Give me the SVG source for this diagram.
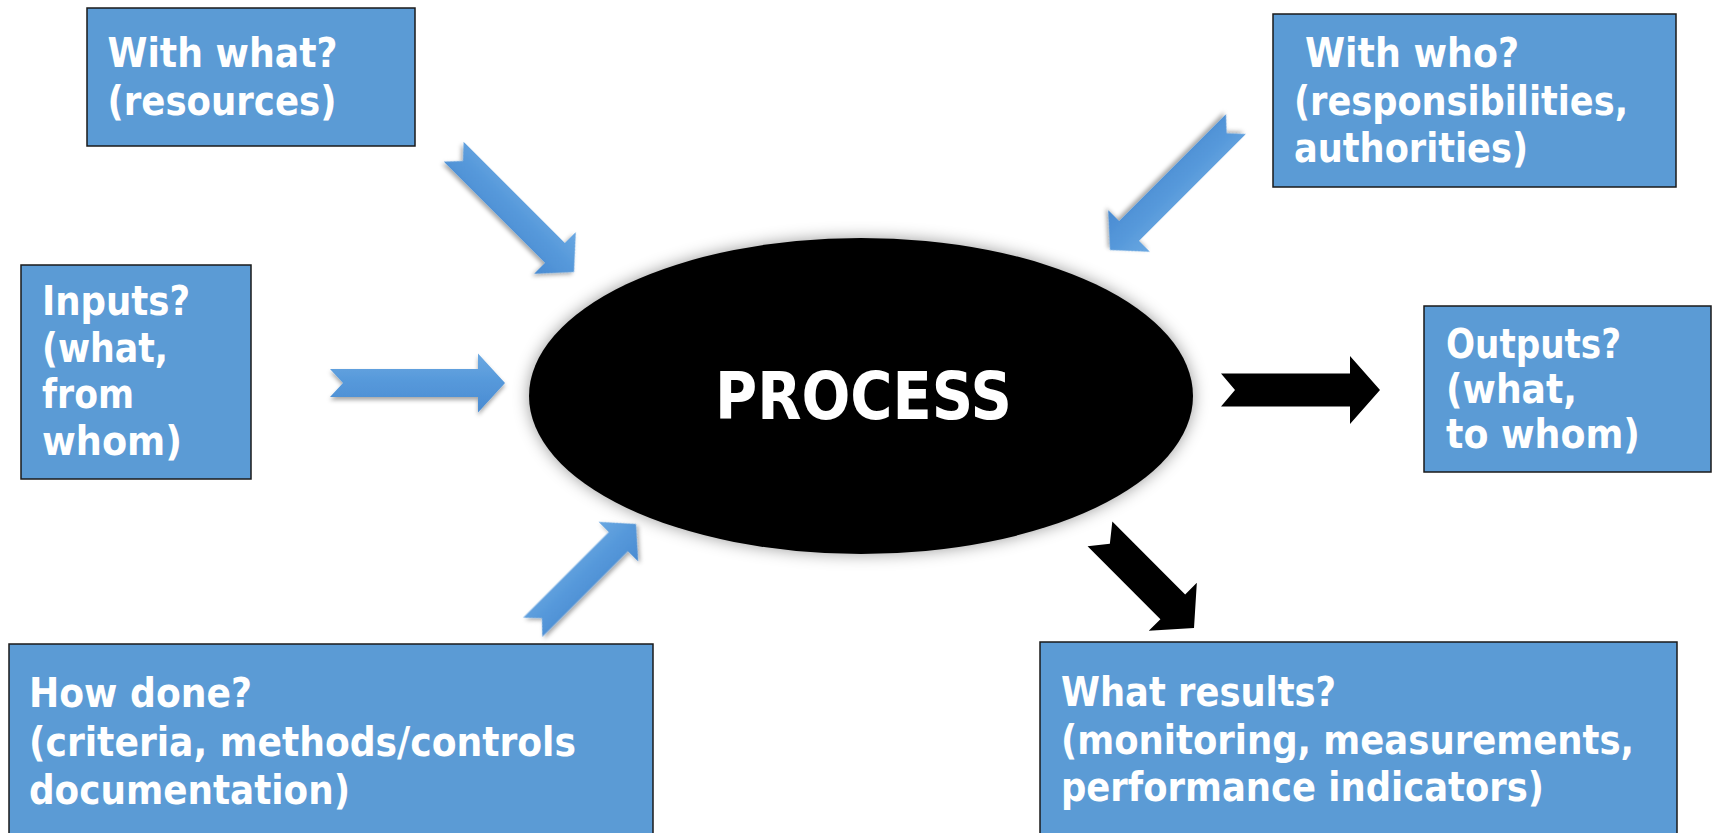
<svg xmlns="http://www.w3.org/2000/svg" width="1716" height="833" viewBox="0 0 1716 833">
<style>
.box{fill:#5B9BD5;stroke:#1a1a1a;stroke-width:1.5}
.t{font-family:"DejaVu Sans","Liberation Sans",sans-serif;font-weight:bold;font-size:40px;fill:#ffffff}
.big{font-family:"DejaVu Sans","Liberation Sans",sans-serif;font-weight:bold;font-size:65px;fill:#ffffff}
.blue{fill:url(#bg);filter:url(#sh)}
.black{fill:#000000}
</style>
<defs>
<linearGradient id="bg" gradientUnits="objectBoundingBox" x1="0" y1="0" x2="0" y2="1">
<stop offset="0" stop-color="#6AA8E2"/>
<stop offset="0.5" stop-color="#5598DA"/>
<stop offset="1" stop-color="#4A8BD2"/>
</linearGradient>
<filter id="sh" x="-30%" y="-30%" width="160%" height="160%">
<feDropShadow dx="0" dy="3" stdDeviation="2" flood-color="#000" flood-opacity="0.35"/>
</filter>
<filter id="glow" x="-20%" y="-20%" width="140%" height="140%">
<feDropShadow dx="0" dy="0" stdDeviation="8" flood-color="#000" flood-opacity="0.4"/>
</filter>
</defs>

<g id="connectors">
<path class="blue" transform="translate(574,272) rotate(45)" d="M0,0 L-27,-29.5 L-27,-14 L-170,-14 L-157,0 L-170,14 L-27,14 L-27,29.5 Z"/>
<path class="blue" transform="translate(1110,250) rotate(135)" d="M0,0 L-27,-29.5 L-27,-14 L-178,-14 L-165,0 L-178,14 L-27,14 L-27,29.5 Z"/>
<path class="blue" d="M505,383 L478,353.5 L478,369 L330,369 L343,383 L330,397 L478,397 L478,412.5 Z"/>
<path class="blue" transform="translate(636,524) rotate(-45)" d="M0,0 L-25,-28 L-25,-13.5 L-146,-13.5 L-133,0 L-146,13.5 L-25,13.5 L-25,28 Z"/>
<path class="black" d="M1380,390 L1350,356 L1350,373.5 L1221,373.5 L1235,390 L1221,406.5 L1350,406.5 L1350,424 Z"/>
<path class="black" transform="translate(1194,628) rotate(45)" d="M0,0 L-30,-34 L-30,-17.5 L-133,-17.5 L-119,0 L-133,17.5 L-30,17.5 L-30,34 Z"/>
</g>

<g id="process">
<ellipse cx="861" cy="396" rx="332" ry="158" fill="#000000" filter="url(#glow)"/>
<text class="big" x="715" y="419" textLength="297" lengthAdjust="spacingAndGlyphs">PROCESS</text>
</g>

<g id="with-what">
<rect class="box" x="87" y="8" width="328" height="138"/>
<text class="t" x="107.5" y="67" textLength="230" lengthAdjust="spacingAndGlyphs">With what?</text>
<text class="t" x="107.5" y="115" textLength="229" lengthAdjust="spacingAndGlyphs">(resources)</text>
</g>

<g id="with-who">
<rect class="box" x="1273" y="14" width="403" height="173"/>
<text class="t" x="1305" y="67" textLength="214" lengthAdjust="spacingAndGlyphs">With who?</text>
<text class="t" x="1294" y="115" textLength="334" lengthAdjust="spacingAndGlyphs">(responsibilities,</text>
<text class="t" x="1294" y="162" textLength="234" lengthAdjust="spacingAndGlyphs">authorities)</text>
</g>

<g id="inputs">
<rect class="box" x="21" y="265" width="230" height="214"/>
<text class="t" x="42" y="315" textLength="148" lengthAdjust="spacingAndGlyphs">Inputs?</text>
<text class="t" x="42" y="362" textLength="126" lengthAdjust="spacingAndGlyphs">(what,</text>
<text class="t" x="42" y="408" textLength="92" lengthAdjust="spacingAndGlyphs">from</text>
<text class="t" x="42" y="455" textLength="140" lengthAdjust="spacingAndGlyphs">whom)</text>
</g>

<g id="outputs">
<rect class="box" x="1424" y="306" width="287" height="166"/>
<text class="t" x="1446" y="358" textLength="175" lengthAdjust="spacingAndGlyphs">Outputs?</text>
<text class="t" x="1446" y="403" textLength="131" lengthAdjust="spacingAndGlyphs">(what,</text>
<text class="t" x="1446" y="448" textLength="194" lengthAdjust="spacingAndGlyphs">to whom)</text>
</g>

<g id="how-done">
<rect class="box" x="9" y="644" width="644" height="200"/>
<text class="t" x="29" y="707" textLength="223" lengthAdjust="spacingAndGlyphs">How done?</text>
<text class="t" x="29" y="756" textLength="547" lengthAdjust="spacingAndGlyphs">(criteria, methods/controls</text>
<text class="t" x="29" y="804" textLength="321" lengthAdjust="spacingAndGlyphs">documentation)</text>
</g>

<g id="what-results">
<rect class="box" x="1040" y="642" width="637" height="200"/>
<text class="t" x="1061" y="706" textLength="275" lengthAdjust="spacingAndGlyphs">What results?</text>
<text class="t" x="1061" y="754" textLength="573" lengthAdjust="spacingAndGlyphs">(monitoring, measurements,</text>
<text class="t" x="1061" y="801" textLength="483" lengthAdjust="spacingAndGlyphs">performance indicators)</text>
</g>
</svg>
